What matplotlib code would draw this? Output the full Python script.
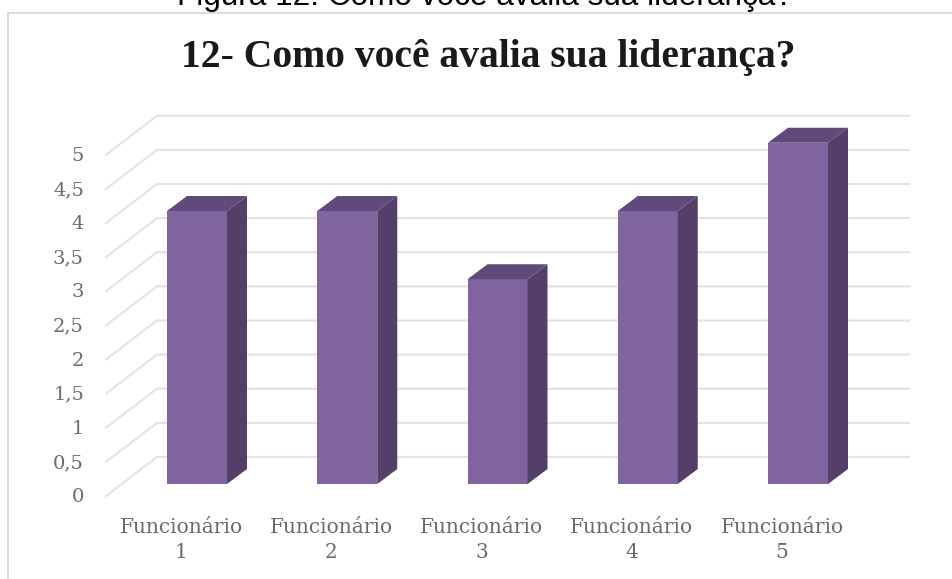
import matplotlib
matplotlib.use("Agg")
import matplotlib.pyplot as plt
from matplotlib.patches import Polygon

caption = "Figura 12: Como você avalia sua liderança?"
title = "12- Como você avalia sua liderança?"
categories = ["Funcionário\n1", "Funcionário\n2", "Funcionário\n3", "Funcionário\n4", "Funcionário\n5"]
values = [4, 4, 3, 4, 5]
ticks = [0, 0.5, 1, 1.5, 2, 2.5, 3, 3.5, 4, 4.5, 5]
tick_labels = ["0", "0,5", "1", "1,5", "2", "2,5", "3", "3,5", "4", "4,5", "5"]

W, H = 952, 579
PX, PY = 150.25, 68.25
X0, Y0 = 197, 484

fig = plt.figure(figsize=(W / 100, H / 100), dpi=100, facecolor="white")
ax = fig.add_axes([0, 0, 1, 1])
ax.set_xlim((0 - X0) / PX, (W - X0) / PX)
ax.set_ylim((Y0 - H) / PY, Y0 / PY)
ax.axis("off")


def dx(px):
    return px / PX


def dy(px):
    return px / PY


# chart frame: only the left and top edges lie inside the picture
ax.plot([8 / W, 8 / W, 1], [0, 1 - 13 / H, 1 - 13 / H], transform=ax.transAxes,
        color="#d9d9d9", lw=1.3, solid_joinstyle="miter", zorder=1)

GRID = "#e3e3e3"
for t, lab in zip(ticks, tick_labels):
    xf, yf = dx(106 - X0), t + dy(-12)
    xb, yb = dx(157 - X0), t + dy(27)
    xe = dx(909 - X0)
    ax.plot([xf, xb, xe], [yf, yb, yb], color=GRID, lw=1.5, solid_joinstyle="miter", zorder=1)
    ax.text(dx(84 - X0), t + dy(-13), lab, ha="right", va="center", fontsize=14,
            family="DejaVu Serif", color="#6a6a6a")

BW = 60 / PX
DX, DY = dx(20), dy(15)
xs = list(range(len(values)))
ax.bar(xs, values, width=BW, color="#8064a0", zorder=3, linewidth=0)
for x, v in zip(xs, values):
    l, r = x - BW / 2, x + BW / 2
    ax.add_patch(Polygon([(r, 0), (r + DX, DY), (r + DX, v + DY), (r, v)], fc="#533f67", ec="none", zorder=3))
    ax.add_patch(Polygon([(l, v), (r, v), (r + DX, v + DY), (l + DX, v + DY)], fc="#604a7b", ec="none", zorder=3))

for x, c in zip(xs, categories):
    ax.text(x - dx(16), dy(-56), c, ha="center", va="center", fontsize=14.5, linespacing=1.4,
            family="DejaVu Serif", color="#6a6a6a")

ax.text(dx(488 - X0), dy(484 - 57), title, ha="center", va="center", fontsize=28.5, weight="bold",
        family="Liberation Serif", color="#1a1a1a")
ax.text(dx(484.5 - X0), dy(484 - 5), caption, ha="center", va="baseline", fontsize=22.7,
        family="Liberation Sans", color="black")

fig.savefig("out.png", dpi=100)
